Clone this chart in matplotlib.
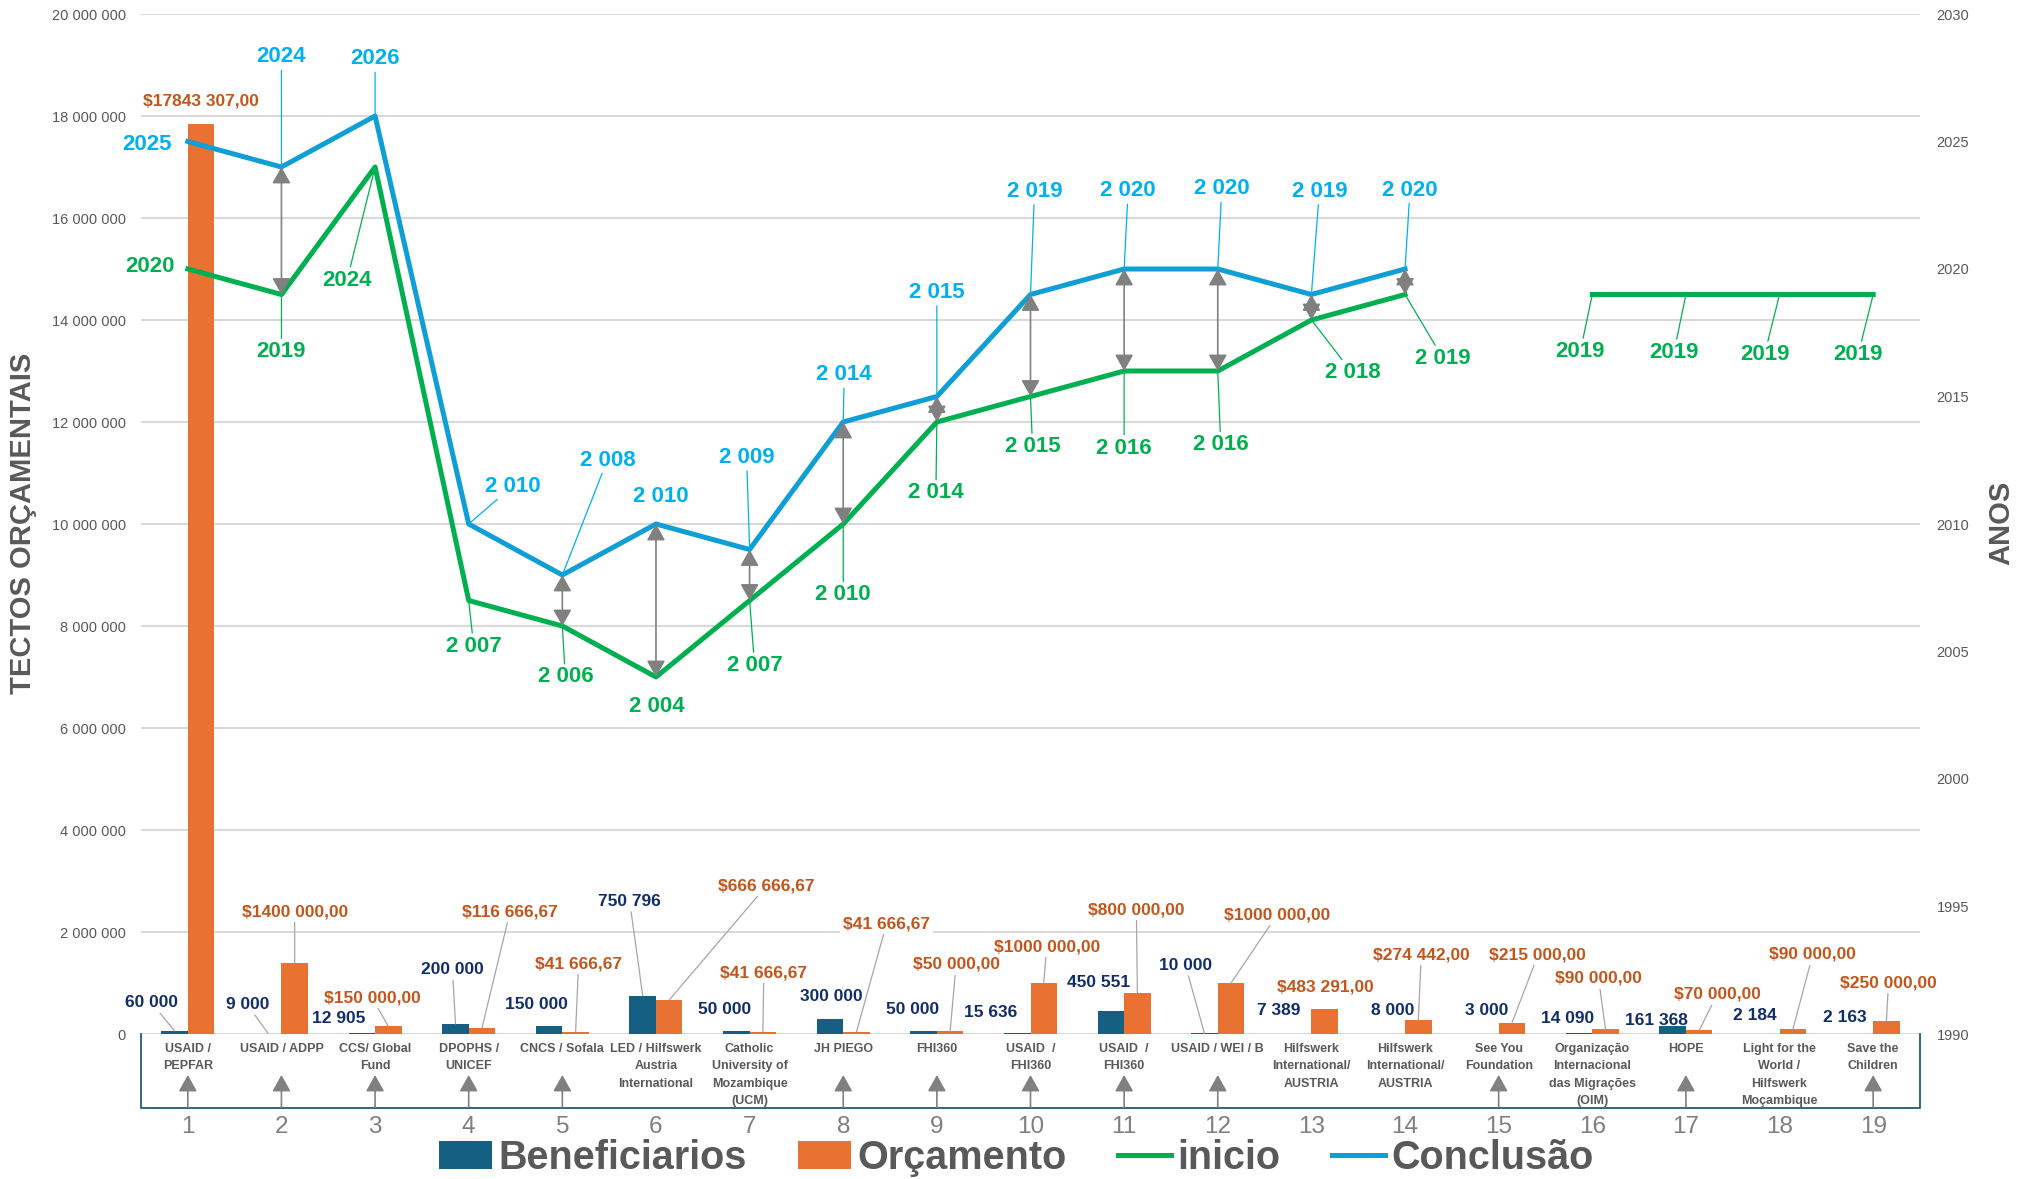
import numpy as np
import matplotlib.pyplot as plt
from matplotlib.patches import Patch
from matplotlib.lines import Line2D

plt.rcParams['font.family'] = ['Liberation Sans', 'DejaVu Sans']

# ---------------- data ----------------
projectos = ['USAID /\nPEPFAR', 'USAID / ADPP', 'CCS/ Global\nFund', 'DPOPHS /\nUNICEF',
             'CNCS / Sofala', 'LED / Hilfswerk\nAustria\nInternational',
             'Catholic\nUniversity of\nMozambique\n(UCM)', 'JH PIEGO', 'FHI360',
             'USAID  /\nFHI360', 'USAID  /\nFHI360', 'USAID / WEI / B',
             'Hilfswerk\nInternational/\nAUSTRIA', 'Hilfswerk\nInternational/\nAUSTRIA',
             'See You\nFoundation', 'Organização\nInternacional\ndas Migrações\n(OIM)',
             'HOPE', 'Light for the\nWorld /\nHilfswerk\nMoçambique', 'Save the\nChildren']
numeros = list(range(1, 20))
beneficiarios = [60000, 9000, 12905, 200000, 150000, 750796, 50000, 300000, 50000, 15636,
                 450551, 10000, 7389, 8000, 3000, 14090, 161368, 2184, 2163]
orcamento = [17843307.00, 1400000.00, 150000.00, 116666.67, 41666.67, 666666.67, 41666.67,
             41666.67, 50000.00, 1000000.00, 800000.00, 1000000.00, 483291.00, 274442.00,
             215000.00, 90000.00, 70000.00, 90000.00, 250000.00]
inicio = [2020, 2019, 2024, 2007, 2006, 2004, 2007, 2010, 2014, 2015, 2016, 2016, 2018, 2019,
          np.nan, 2019, 2019, 2019, 2019]
conclusao = [2025, 2024, 2026, 2010, 2008, 2010, 2009, 2014, 2015, 2019, 2020, 2020, 2019, 2020,
             np.nan, np.nan, np.nan, np.nan, np.nan]

# ---------------- layout (label offsets in pixels, leader flags) ----------------
off_orc = [(0, 23), (0, 51), (-16, 28), (28, 116), (3, 68), (97, 114), (1, 59), (30, 108),
           (6, 67), (3, 36), (-1, 83), (46, 68), (1, 22), (3, 65), (26, 68), (-7, 51),
           (18, 36), (20, 75), (2, 38)]
lead_orc = [0, 1, 1, 1, 1, 1, 1, 1, 1, 1, 1, 1, 0, 1, 1, 1, 1, 1, 1]
off_ben = [(-23, 28), (-21, 29), (-23, 15), (-3, 54), (-13, 22), (-13, 94), (-12, 22), (1, 22),
           (-11, 22), (-27, 21), (-12, 29), (-19, 68), (-19, 23), (1, 23), (1, 23), (-11, 15),
           (-16, 5), (-11, 18), (-15, 16)]
lead_ben = [1, 1, 0, 1, 0, 1, 0, 0, 0, 0, 0, 1, 0, 0, 0, 0, 0, 0, 0]
off_conc = [(-41, -3), (0, 110), (0, 57), (44, 38), (45, 115), (5, 27), (-3, 92), (1, 47),
            (0, 104), (4, 103), (4, 78), (4, 80), (8, 103), (5, 79)]
lead_conc = [0, 1, 1, 1, 1, 0, 1, 1, 1, 1, 1, 1, 1, 1]
off_ini = [(-38, 2), (0, -57), (-28, -113), (5, -46), (3, -51), (1, -30), (5, -65), (0, -71),
           (-1, -71), (2, -50), (0, -77), (3, -74), (41, -53), (38, -64), (0, 0), (-12, -57),
           (-12, -58), (-15, -60), (-15, -60)]
lead_ini = [0, 1, 1, 1, 1, 0, 1, 1, 1, 1, 1, 1, 1, 1, 0, 1, 1, 1, 1]
setas_duplas = [2, 5, 6, 7, 8, 9, 10, 11, 12, 13, 14]
setas_caixa = [1, 2, 3, 4, 5, 8, 9, 10, 11, 12, 15, 17, 19]
ano_espacado = range(4, 15)

c_ben, c_orc = '#156082', '#E97132'
c_ini, c_conc = '#00B050', '#0F9ED5'
t_orc, t_ben, t_conc = '#C4561C', '#112E6B', '#00B0F0'
grey = '#595959'


def fmt_num(v):
    return f'{v:,.0f}'.replace(',', ' ')


def fmt_money(v):
    whole = int(v)
    cents = int(round((v - whole) * 100))
    s = str(whole)
    if len(s) > 3:
        s = s[:-3] + ' ' + s[-3:]
    return f'${s},{cents:02d}'


def fmt_ano(v, i):
    return fmt_num(v) if i in ano_espacado else f'{v:.0f}'


def rotulo(axis, text, xy, off, color, leader, lcolor, size, box=False):
    kw = dict(xy=xy, xytext=off, textcoords='offset pixels', ha='center', va='center',
              color=color, fontsize=size, fontweight='bold', annotation_clip=False)
    if box:
        kw['bbox'] = dict(boxstyle='square,pad=0.15', fc='white', ec='none')
    if leader:
        kw['arrowprops'] = dict(arrowstyle='-', color=lcolor, lw=0.9, shrinkA=0, shrinkB=0)
    axis.annotate(text, **kw)


fig = plt.figure(figsize=(20.26, 11.79), dpi=100)
ax = fig.add_axes([141 / 2026, 145 / 1179, 1779 / 2026, 1020 / 1179])
x = np.array(numeros)
w = 0.283

bars_b = ax.bar(x - w / 2, beneficiarios, w, color=c_ben, zorder=2)
bars_o = ax.bar(x + w / 2, orcamento, w, color=c_orc, zorder=2)
ax.set_xlim(0.5, 19.5)
ax.set_ylim(0, 20e6)
ax.set_yticks(np.arange(0, 20e6 + 1, 2e6))
ax.yaxis.set_major_formatter(plt.FuncFormatter(lambda v, p: fmt_num(v)))
ax.set_xticks([])
ax.grid(axis='y', color='#D9D9D9', lw=1.5)
ax.set_axisbelow(True)
ax.tick_params(axis='y', length=0, pad=11, labelsize=10.5, labelcolor=grey)
for s in ax.spines.values():
    s.set_visible(False)

for i, r in enumerate(bars_b):
    rotulo(ax, fmt_num(beneficiarios[i]), (r.get_x() + r.get_width() / 2, r.get_height()),
           off_ben[i], t_ben, lead_ben[i], '#A6A6A6', 12.5)
for i, r in enumerate(bars_o):
    rotulo(ax, fmt_money(orcamento[i]), (r.get_x() + r.get_width() / 2, r.get_height()),
           off_orc[i], t_orc, lead_orc[i], '#A6A6A6', 12.5, box=True)

ax2 = ax.twinx()
ax2.set_ylim(1990, 2030)
ax2.set_yticks(range(1990, 2031, 5))
ax2.tick_params(axis='y', length=0, pad=12, labelsize=10.5, labelcolor=grey)
for s in ax2.spines.values():
    s.set_visible(False)

ax2.plot(x, inicio, color=c_ini, lw=3.6, zorder=3)
ax2.plot(x, conclusao, color=c_conc, lw=3.6, zorder=3)

for c in setas_duplas:
    ax2.annotate('', xy=(c, conclusao[c - 1]), xytext=(c, inicio[c - 1]),
                 arrowprops=dict(arrowstyle='<|-|>,head_length=0.5,head_width=0.28',
                                 mutation_scale=20, color='#808080', lw=1.2,
                                 shrinkA=0, shrinkB=0), zorder=4)

for i in range(19):
    if not np.isnan(conclusao[i]):
        rotulo(ax2, fmt_ano(conclusao[i], i + 1), (x[i], conclusao[i]), off_conc[i],
               t_conc, lead_conc[i], t_conc, 16)
    if not np.isnan(inicio[i]):
        rotulo(ax2, fmt_ano(inicio[i], i + 1), (x[i], inicio[i]), off_ini[i],
               c_ini, lead_ini[i], c_ini, 16)

# category box below the plot (y in figure pixels, top down)
axb = fig.add_axes([141 / 2026, 39 / 1179, 1779 / 2026, 106 / 1179])
axb.set_xlim(0.5, 19.5)
axb.set_ylim(1140, 1034)
axb.axis('off')
axb.plot([0.5, 0.5, 19.5, 19.5], [1034, 1108, 1108, 1034], color='#1F5A82', lw=1.3,
         clip_on=False)
for i, nome in enumerate(projectos):
    axb.text(x[i], 1043, nome, ha='center', va='top', fontsize=9, fontweight='bold',
             color=grey, linespacing=1.6)
    axb.text(x[i], 1127, str(numeros[i]), ha='center', va='center', fontsize=17.5,
             color='#7F7F7F', clip_on=False)
for c in setas_caixa:
    axb.annotate('', xy=(c, 1075), xytext=(c, 1107),
                 arrowprops=dict(arrowstyle='-|>,head_length=0.5,head_width=0.28',
                                 mutation_scale=20, color='#808080', lw=1.2,
                                 shrinkA=0, shrinkB=0))

fig.text(23 / 2026, 1 - 523 / 1179, 'TECTOS ORÇAMENTAIS', rotation=90, ha='center',
         va='center', fontsize=21, fontweight='bold', color=grey)
fig.text(2001 / 2026, 1 - 523 / 1179, 'ANOS', rotation=90, ha='center', va='center',
         fontsize=21, fontweight='bold', color=grey)

handles = [Patch(fc=c_ben), Patch(fc=c_orc),
           Line2D([], [], color=c_ini, lw=3.6), Line2D([], [], color=c_conc, lw=3.6)]
fig.legend(handles, ['Beneficiarios', 'Orçamento', 'inicio', 'Conclusão'], loc='center',
           bbox_to_anchor=(1016 / 2026, 1 - 1158 / 1179), ncol=4, frameon=False,
           prop=dict(size=28.5, weight='bold'), labelcolor=grey, handlelength=1.35,
           handletextpad=0.15, columnspacing=1.3, borderpad=0, borderaxespad=0)

fig.savefig('out.png', dpi=100)
